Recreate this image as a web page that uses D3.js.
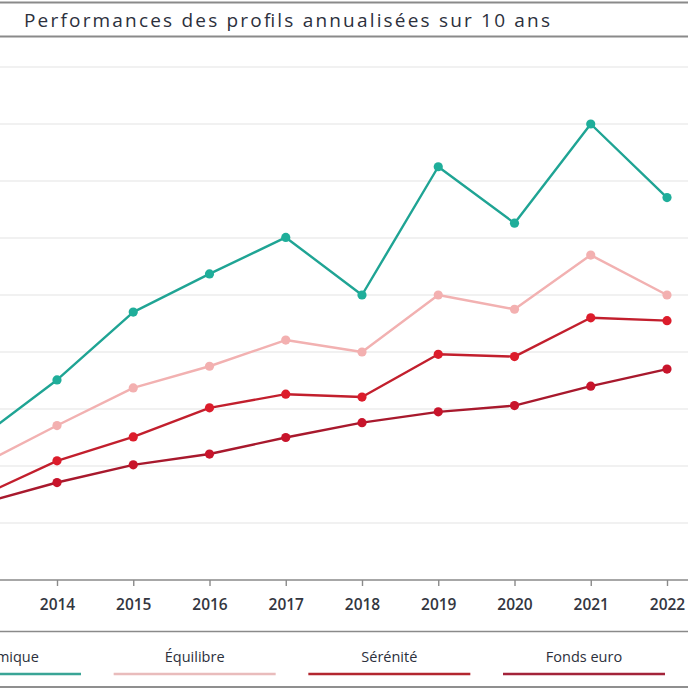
<!DOCTYPE html>
<html><head><meta charset="utf-8">
<script src="https://cdn.jsdelivr.net/npm/d3@7"></script>
<style>html,body{margin:0;padding:0;background:#fff;overflow:hidden}</style>
</head><body>
<svg id="c" width="688" height="688"></svg>
<script>
const title = "Performances des profils annualisées sur 10 ans";
const years = [2013, 2014, 2015, 2016, 2017, 2018, 2019, 2020, 2021, 2022];
const tickYears = [2014, 2015, 2016, 2017, 2018, 2019, 2020, 2021, 2022];
const seriesNames = ["Dynamique", "Équilibre", "Sérénité", "Fonds euro"];
const dynamique = [2.50, 3.51, 4.70, 5.37, 6.01, 5.00, 7.25, 6.26, 8.00, 6.71];
const equilibre = [2.02, 2.71, 3.37, 3.75, 4.21, 4.00, 5.00, 4.75, 5.70, 5.00];
const serenite  = [1.47, 2.09, 2.51, 3.02, 3.26, 3.21, 3.96, 3.92, 4.60, 4.55];
const fondsEuro = [1.34, 1.71, 2.02, 2.21, 2.50, 2.76, 2.95, 3.06, 3.40, 3.70];
const gridValues = [1, 2, 3, 4, 5, 6, 7, 8, 9];

const seriesValues = [dynamique, equilibre, serenite, fondsEuro];
const lineColors = ["#1fa494", "#f2b1b1", "#c21f2d", "#a8192d"];
const dotColors  = ["#1fae9a", "#f3b0b0", "#dc1c2b", "#c8142b"];
const legendColors = ["#3aa596", "#e9bcbc", "#b3262f", "#a3233a"];

const svg = d3.select("#c");
svg.append("rect").attr("width", 688).attr("height", 688).attr("fill", "#fff");

const x = d3.scaleLinear().domain([2014, 2022]).range([57, 667]);
const y = d3.scaleLinear().domain([0, 9]).range([580, 67]);

// title band
svg.append("line").attr("x1", 0).attr("x2", 688).attr("y1", 2.5).attr("y2", 2.5).attr("stroke", "#8a8a8a").attr("stroke-width", 2);
svg.append("line").attr("x1", 0).attr("x2", 688).attr("y1", 36.5).attr("y2", 36.5).attr("stroke", "#8a8a8a").attr("stroke-width", 2);
svg.append("text").attr("x", 24).attr("y", 26.5).text(title)
  .attr("font-family", "'Open Sans', sans-serif").attr("font-size", 19).attr("fill", "#2c303c")
  .attr("textLength", 526).attr("lengthAdjust", "spacing");

// gridlines
svg.append("g").selectAll("line").data(gridValues).join("line")
  .attr("x1", 0).attr("x2", 688)
  .attr("y1", d => y(d)).attr("y2", d => y(d))
  .attr("stroke", "#e4e4e4").attr("stroke-width", 1.2);

// x axis
const xAxis = d3.axisBottom(x).tickValues(tickYears).tickFormat(d3.format("d")).tickSize(6).tickPadding(13);
const gx = svg.append("g").attr("transform", `translate(0,${y(0)})`).call(xAxis);
gx.select(".domain").remove();
gx.append("line").attr("x1", 0).attr("x2", 688).attr("y1", 0).attr("y2", 0).attr("stroke", "#8a8a8a").attr("stroke-width", 1.6);
gx.selectAll(".tick line").attr("stroke", "#8a8a8a").attr("stroke-width", 1.4);
gx.selectAll(".tick text").attr("font-family", "'Open Sans', sans-serif").attr("font-size", 15.5)
  .attr("font-weight", 600).attr("fill", "#333640");

// lines and dots
const line = d3.line().x((d, i) => x(years[i])).y(d => y(d));
const gl = svg.append("g");
seriesValues.forEach((vals, si) => {
  gl.append("path").datum(vals).attr("d", line).attr("fill", "none")
    .attr("stroke", lineColors[si]).attr("stroke-width", 2.4).attr("stroke-linejoin", "round");
});
seriesValues.forEach((vals, si) => {
  gl.append("g").selectAll("circle").data(vals).join("circle")
    .attr("cx", (d, i) => x(years[i])).attr("cy", d => y(d)).attr("r", 4.6)
    .attr("fill", dotColors[si]);
});

// legend
svg.append("line").attr("x1", 0).attr("x2", 688).attr("y1", 631.5).attr("y2", 631.5).attr("stroke", "#8a8a8a").attr("stroke-width", 1.6);
svg.append("line").attr("x1", 0).attr("x2", 688).attr("y1", 687).attr("y2", 687).attr("stroke", "#6a6a6a").attr("stroke-width", 1.6);
const legendX = d3.scaleLinear().domain([0, 3]).range([0, 584]);
const lg = svg.append("g");
seriesNames.forEach((name, i) => {
  const cx = legendX(i);
  lg.append("text").attr("x", cx).attr("y", 662).attr("text-anchor", "middle").text(name)
    .attr("font-family", "'Open Sans', sans-serif").attr("font-size", 14.5).attr("font-weight", 500).attr("fill", "#2c303c");
  lg.append("line").attr("x1", cx - 81).attr("x2", cx + 81).attr("y1", 674).attr("y2", 674)
    .attr("stroke", legendColors[i]).attr("stroke-width", 2.6);
});
</script>
</body></html>
